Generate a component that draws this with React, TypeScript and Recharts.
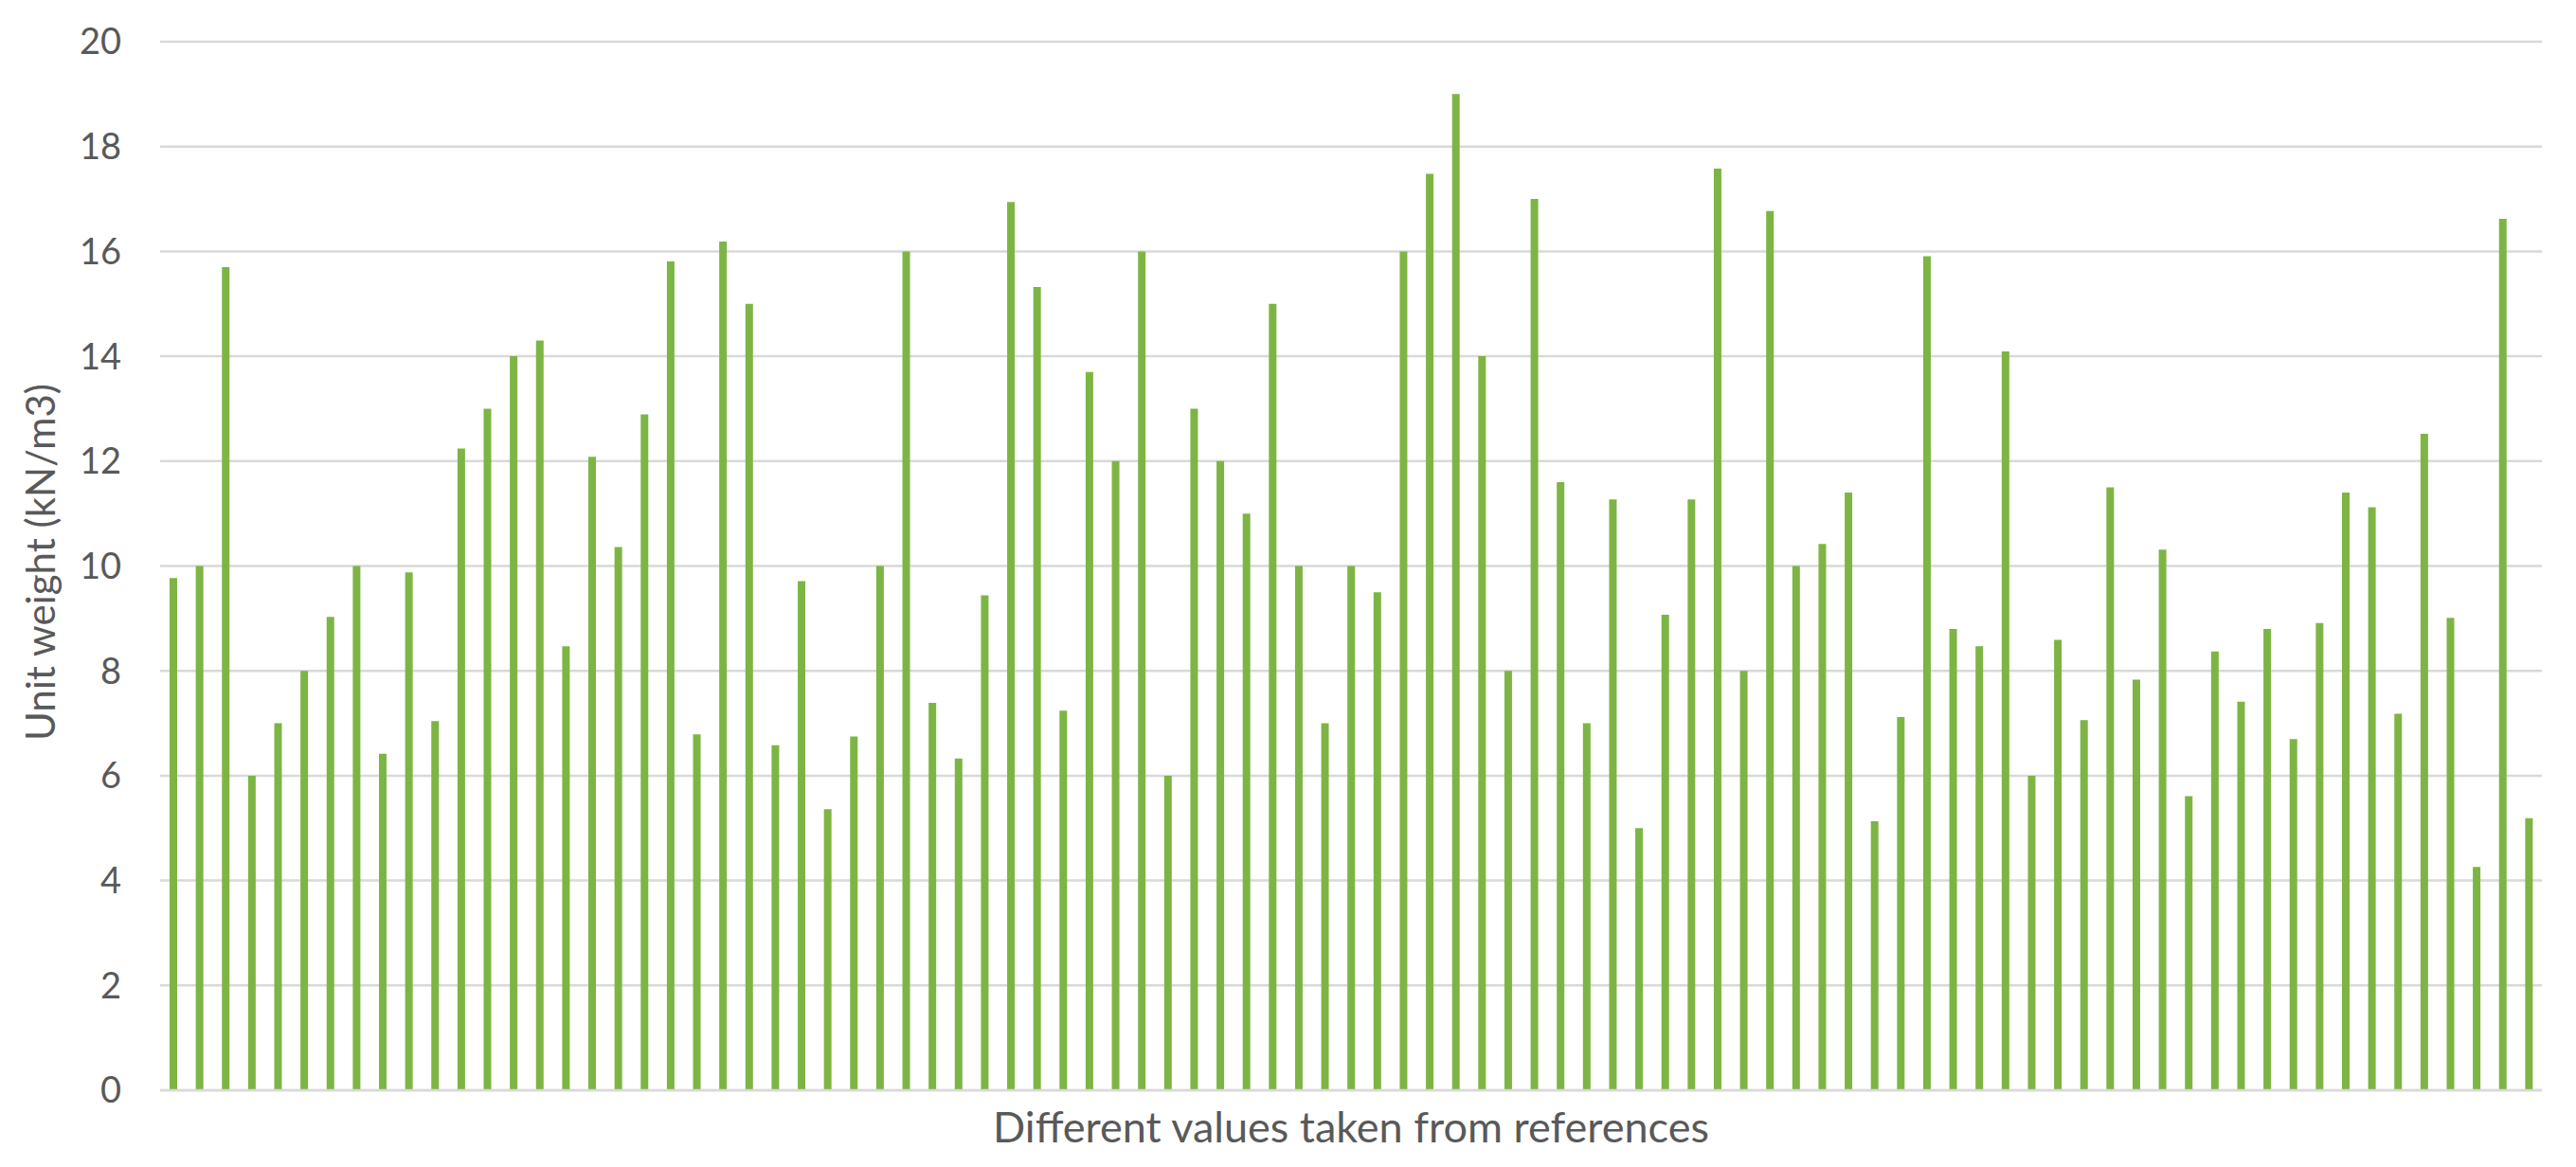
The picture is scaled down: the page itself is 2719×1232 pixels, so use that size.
import { BarChart, Bar, XAxis, YAxis, CartesianGrid, Label } from "recharts";

// unit weight values (kN/m3), one per source
const unitWeights = [
  9.77, 10, 15.7, 6, 7, 8, 9.03, 10, 6.42, 9.88,
  7.04, 12.24, 13, 14, 14.3, 8.47, 12.08, 10.36, 12.89, 15.81,
  6.79, 16.19, 15, 6.58, 9.71, 5.36, 6.75, 10, 16, 7.39,
  6.33, 9.44, 16.94, 15.32, 7.24, 13.7, 12, 16, 6, 13,
  12, 11, 15, 10, 7, 10, 9.5, 16, 17.48, 19,
  14, 8, 17, 11.6, 7, 11.27, 5, 9.07, 11.27, 17.58,
  8, 16.77, 10, 10.42, 11.4, 5.13, 7.12, 15.91, 8.8, 8.47,
  14.09, 6, 8.59, 7.06, 11.5, 7.83, 10.31, 5.61, 8.37, 7.41,
  8.8, 6.7, 8.91, 11.4, 11.12, 7.18, 12.52, 9.01, 4.26, 16.62,
  5.19,
];

const sourceIds = unitWeights.map((_, i) => `ref-${i + 1}`);
const yTicks = [0, 2, 4, 6, 8, 10, 12, 14, 16, 18, 20];

const textColor = "#595959";
const gridColor = "#d9d9d9";
const barColor = "#7db544";
const font = "Lato, 'Open Sans', sans-serif";

export default function App() {
  const data = sourceIds.map((id, i) => ({ id, value: unitWeights[i] }));

  return (
    <div style={{ position: "absolute", left: 0, top: 0, background: "#fff" }}>
      <BarChart
        width={2719}
        height={1232}
        data={data}
        margin={{ top: 44, right: 36, left: 0, bottom: 0 }}
        barCategoryGap={0}
      >
        <CartesianGrid vertical={false} stroke={gridColor} strokeWidth={2.5} />
        <XAxis
          dataKey="id"
          tick={false}
          tickLine={false}
          axisLine={{ stroke: gridColor, strokeWidth: 2.5 }}
          height={81}
        >
          <Label
            content={({ viewBox }: any) => (
              <text
                x={viewBox.x + viewBox.width / 2}
                y={1206}
                textAnchor="middle"
                fill={textColor}
                fontSize={45}
                fontFamily={font}
              >
                Different values taken from references
              </text>
            )}
          />
        </XAxis>
        <YAxis
          domain={[0, 20]}
          ticks={yTicks}
          width={169}
          axisLine={false}
          tickLine={false}
          tickSize={0}
          tickMargin={41}
          tick={{ fill: textColor, fontSize: 38, fontFamily: font }}
        >
          <Label
            content={({ viewBox }: any) => {
              const cy = viewBox.y + viewBox.height / 2 - 4;
              return (
                <text
                  x={42}
                  y={cy}
                  transform={`rotate(-90 42 ${cy})`}
                  textAnchor="middle"
                  dominantBaseline="central"
                  fill={textColor}
                  fontSize={42}
                  fontFamily={font}
                >
                  Unit weight (kN/m3)
                </text>
              );
            }}
          />
        </YAxis>
        <Bar dataKey="value" fill={barColor} barSize={8} isAnimationActive={false} />
      </BarChart>
    </div>
  );
}
